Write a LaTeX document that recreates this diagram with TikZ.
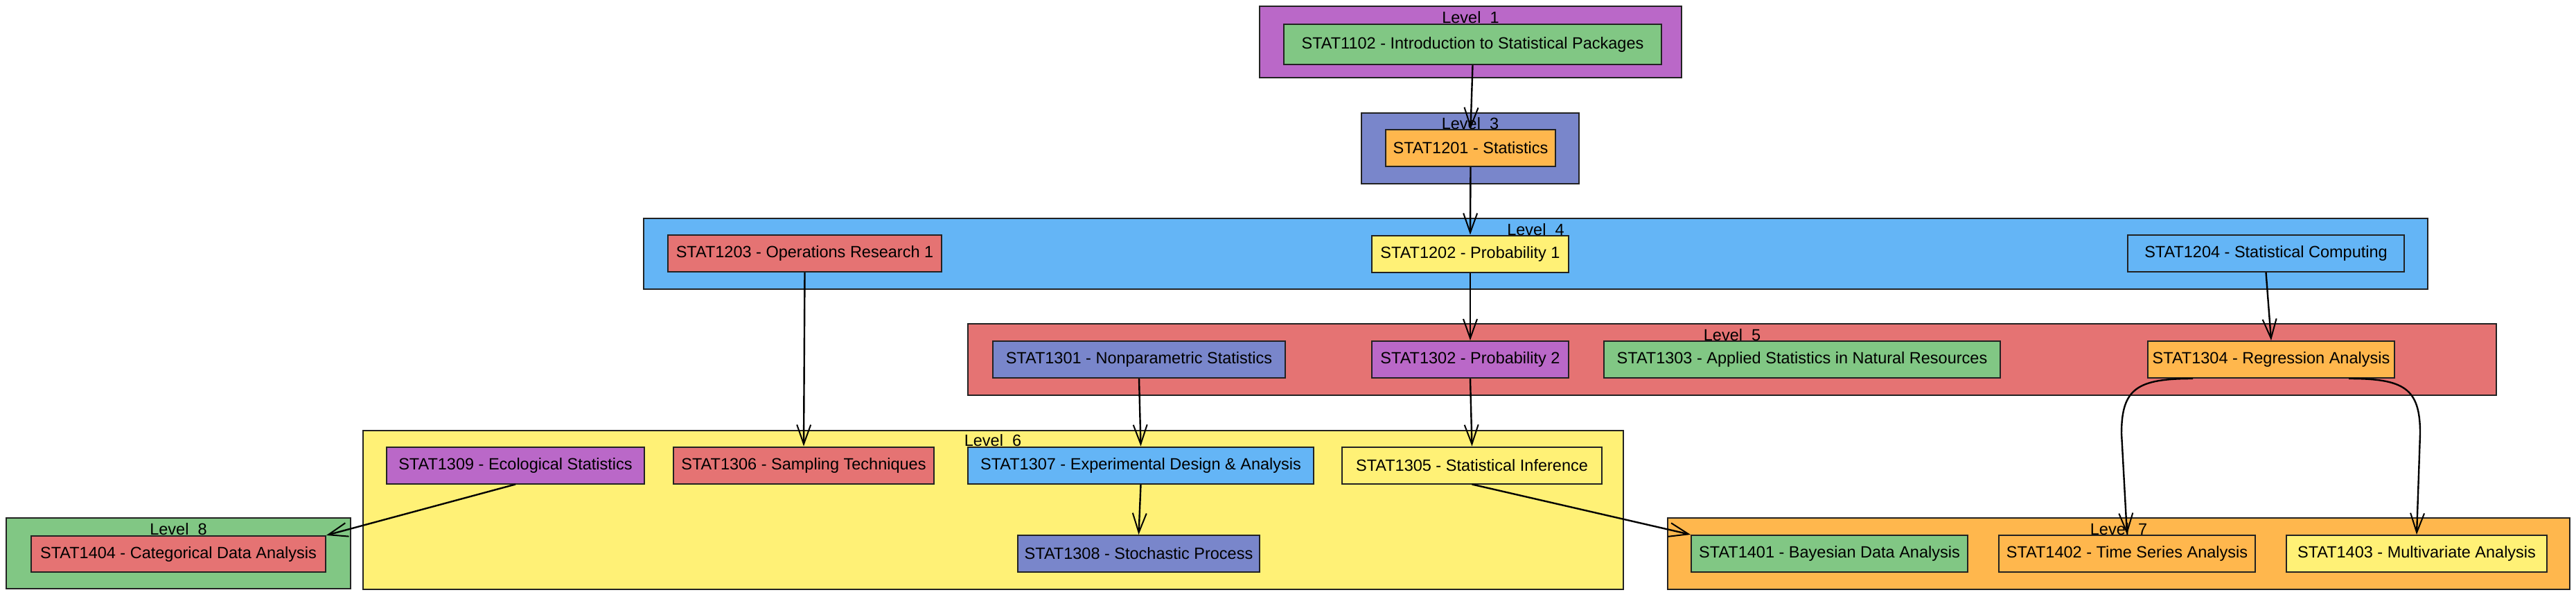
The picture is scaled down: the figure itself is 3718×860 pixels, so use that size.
\documentclass[tikz,border=0pt]{standalone}
\usepackage{fontspec}
\setmainfont{Liberation Sans}
\usetikzlibrary{arrows.meta,calc}
\definecolor{cpurple}{HTML}{BA68C8}
\definecolor{cgreen}{HTML}{81C784}
\definecolor{cindigo}{HTML}{7986CB}
\definecolor{corange}{HTML}{FFB74D}
\definecolor{cblue}{HTML}{64B5F6}
\definecolor{cred}{HTML}{E57373}
\definecolor{cyellow}{HTML}{FFF176}
\definecolor{cline}{HTML}{222222}
\begin{document}
\begin{tikzpicture}[x=1pt,y=-1pt,
  cluster/.style={draw=cline,line width=2pt,rectangle,inner sep=0pt},
  course/.style={draw=cline,line width=2pt,rectangle,inner sep=0pt,minimum height=53pt,font=\fontsize{23.5}{28}\selectfont,text=black},
  lvl/.style={anchor=base,font=\fontsize{23.5}{28}\selectfont,inner sep=0pt,text=black},
  arr/.style={draw=black,line width=2.4pt,-{Straight Barb[length=28pt,width=20pt,line width=2pt]}}
]
\useasboundingbox[fill=white] (0,0) rectangle (3718,860);

% clusters
\node[cluster,fill=cpurple,minimum width=609pt,minimum height=103pt] (L1) at (2122.5,60.5) {};
\node[cluster,fill=cindigo,minimum width=314pt,minimum height=102pt] (L3) at (2122,214) {};
\node[cluster,fill=cblue,minimum width=2575pt,minimum height=102pt] (L4) at (2216.5,366) {};
\node[cluster,fill=cred,minimum width=2206pt,minimum height=103pt] (L5) at (2500,518.5) {};
\node[cluster,fill=cyellow,minimum width=1819pt,minimum height=229pt] (L6) at (1433,735.5) {};
\node[cluster,fill=corange,minimum width=1302pt,minimum height=103pt] (L7) at (3058,798.5) {};
\node[cluster,fill=cgreen,minimum width=497pt,minimum height=102pt] (L8) at (257.5,798) {};

% cluster labels
\node[lvl] (L1lab) at (2122.5,33) {Level\_1};
\node[lvl] (L3lab) at (2122,186) {Level\_3};
\node[lvl] (L4lab) at (2216.5,339) {Level\_4};
\node[lvl] (L5lab) at (2500,491) {Level\_5};
\node[lvl] (L6lab) at (1433,643) {Level\_6};
\node[lvl] (L7lab) at (3058,771) {Level\_7};
\node[lvl] (L8lab) at (257.5,771) {Level\_8};

% courses
\node[course,fill=cgreen,minimum width=545pt,minimum height=58pt] (s1102) at (2125.5,64) {STAT1102 - Introduction to Statistical Packages};
\node[course,fill=corange,minimum width=245pt] (s1201) at (2122.5,213.5) {STAT1201 - Statistics};
\node[course,fill=cred,minimum width=395pt] (s1203) at (1161.5,365.5) {STAT1203 - Operations Research 1};
\node[course,fill=cyellow,minimum width=284pt] (s1202) at (2122,366) {STAT1202 - Probability 1};
\node[course,fill=cblue,minimum width=399pt] (s1204) at (3270.5,365.5) {STAT1204 - Statistical Computing};
\node[course,fill=cindigo,minimum width=422pt] (s1301) at (1644,518.5) {STAT1301 - Nonparametric Statistics};
\node[course,fill=cpurple,minimum width=284pt] (s1302) at (2122,518.5) {STAT1302 - Probability 2};
\node[course,fill=cgreen,minimum width=572pt] (s1303) at (2601,518.5) {STAT1303 - Applied Statistics in Natural Resources};
\node[course,fill=corange,minimum width=356pt] (s1304) at (3278,518.5) {STAT1304 - Regression Analysis};
\node[course,fill=cpurple,minimum width=372pt] (s1309) at (744,671) {STAT1309 - Ecological Statistics};
\node[course,fill=cred,minimum width=376pt] (s1306) at (1160,671) {STAT1306 - Sampling Techniques};
\node[course,fill=cblue,minimum width=499pt] (s1307) at (1646.5,671) {STAT1307 - Experimental Design \& Analysis};
\node[course,fill=cyellow,minimum width=375pt] (s1305) at (2124.5,671) {STAT1305 - Statistical Inference};
\node[course,fill=cindigo,minimum width=349pt] (s1308) at (1643.5,798.5) {STAT1308 - Stochastic Process};
\node[course,fill=cgreen,minimum width=399pt] (s1401) at (2640.5,798.5) {STAT1401 - Bayesian Data Analysis};
\node[course,fill=corange,minimum width=370pt] (s1402) at (3070,798.5) {STAT1402 - Time Series Analysis};
\node[course,fill=cyellow,minimum width=376pt] (s1403) at (3488,798.5) {STAT1403 - Multivariate Analysis};
\node[course,fill=cred,minimum width=425pt,minimum height=52pt] (s1404) at (257.5,799) {STAT1404 - Categorical Data Analysis};

% connectors
\draw[arr] (s1102.south) -- (s1201.north);
\draw[arr] (s1201.south) -- (s1202.north);
\draw[arr] (s1202.south) -- (s1302.north);
\draw[arr] (s1203.south) -- (s1306.north);
\draw[arr] (s1301.south) -- (s1307.north);
\draw[arr] (s1302.south) -- (s1305.north);
\draw[arr] (s1204.south) -- (s1304.north);
\draw[arr] (s1307.south) -- (s1308.north);
\draw[arr] (s1309.south) -- (s1404.north east);
\draw[arr] (s1305.south) -- (s1401.north west);
\coordinate (bendL) at (3062,625);
\coordinate (bendR) at (3493,625);
\draw[arr] ([xshift=-113pt]s1304.south) .. controls ($([xshift=-113pt]s1304.south)+(-80,0)$) and (3062,560) .. (bendL) -- (s1402.north);
\draw[arr] ([xshift=112pt]s1304.south) .. controls ($([xshift=112pt]s1304.south)+(80,0)$) and (3493,560) .. (bendR) -- (s1403.north);
\end{tikzpicture}
\end{document}
